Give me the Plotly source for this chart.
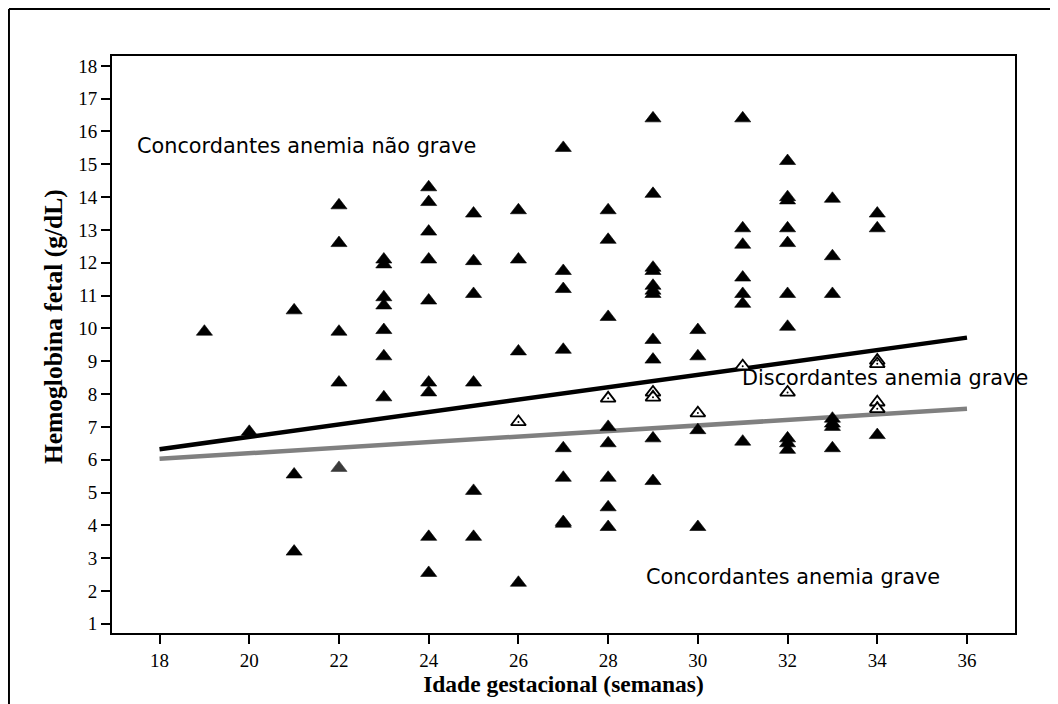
import plotly.graph_objects as go

# ---- data ----
filled_weeks = ([19] + [20] + [21] * 3 + [22] * 4 + [23] * 7 + [24] * 9 + [25] * 6 + [26] * 4
                + [27] * 8 + [28] * 8 + [29] * 11 + [30] * 4 + [31] * 7 + [32] * 10 + [33] * 7 + [34] * 3)
filled_hb = [9.9,
             6.85,
             10.55, 5.55, 3.2,
             13.75, 12.6, 9.9, 8.35,
             12.1, 11.95, 10.95, 10.7, 9.95, 9.15, 7.9,
             14.3, 13.85, 12.95, 12.1, 10.85, 8.35, 8.05, 3.65, 2.55,
             13.5, 12.05, 11.05, 8.35, 5.05, 3.65,
             13.6, 12.1, 9.3, 2.25,
             15.5, 11.75, 11.2, 9.35, 6.35, 5.45, 4.1, 4.05,
             13.6, 12.7, 10.35, 7.0, 6.5, 5.45, 4.55, 3.95,
             16.4, 14.1, 11.85, 11.75, 11.3, 11.15, 11.05, 9.65, 9.05, 6.65, 5.35,
             9.95, 9.15, 6.9, 3.95,
             16.4, 13.05, 12.55, 11.55, 11.05, 10.75, 6.55,
             15.1, 14.0, 13.9, 13.05, 12.6, 11.05, 10.05, 6.65, 6.5, 6.3,
             13.95, 12.2, 11.05, 7.25, 7.1, 7.0, 6.35,
             13.5, 13.05, 6.75]

grey_weeks = [22]
grey_hb = [5.75]

hollow_weeks = [26, 28, 29, 29, 30, 31, 32, 34, 34, 34, 34]
hollow_hb = [7.15, 7.87, 8.05, 7.9, 7.42, 8.85, 8.05, 9.02, 8.92, 7.75, 7.55]

fit_weeks = [18, 36]
fit_black = [6.32, 9.72]
fit_grey = [6.03, 7.55]

x_ticks = [18, 20, 22, 24, 26, 28, 30, 32, 34, 36]
y_ticks = list(range(1, 19))

labels = ["Concordantes anemia não grave", "Discordantes anemia grave", "Concordantes anemia grave"]
label_x = [17.46, 30.93, 28.79]
label_y = [15.55, 8.49, 2.44]

x_title = "Idade gestacional (semanas)"
y_title = "Hemoglobina fetal (g/dL)"

fig = go.Figure()

fig.add_trace(go.Scatter(x=fit_weeks, y=fit_black, mode="lines",
                         line=dict(color="black", width=4.5), showlegend=False, hoverinfo="skip"))
fig.add_trace(go.Scatter(x=fit_weeks, y=fit_grey, mode="lines",
                         line=dict(color="#808080", width=4.5), showlegend=False, hoverinfo="skip"))

fig.add_trace(go.Scatter(x=filled_weeks, y=filled_hb, mode="markers",
                         marker=dict(symbol="triangle-up", size=14, color="black",
                                     line=dict(color="black", width=0.6)),
                         showlegend=False))
fig.add_trace(go.Scatter(x=grey_weeks, y=grey_hb, mode="markers",
                         marker=dict(symbol="triangle-up", size=14, color="#3a3a3a",
                                     line=dict(color="#3a3a3a", width=0.6)),
                         showlegend=False))
fig.add_trace(go.Scatter(x=hollow_weeks, y=hollow_hb, mode="markers",
                         marker=dict(symbol="triangle-up", size=13, color="white",
                                     line=dict(color="black", width=1.8)),
                         showlegend=False))
fig.add_trace(go.Scatter(x=hollow_weeks, y=hollow_hb, mode="markers",
                         marker=dict(symbol="circle", size=2, color="black", line=dict(width=0)),
                         showlegend=False, hoverinfo="skip"))

for t, x, y in zip(labels, label_x, label_y):
    fig.add_annotation(x=x, y=y, text=t, showarrow=False, xanchor="left", yanchor="middle",
                       font=dict(family="DejaVu Sans", size=20.8, color="black"))

# y-axis title (placed slightly above the plot centre, as in the reference)
fig.add_annotation(xref="paper", yref="paper", x=-0.0653, y=0.5303, text="<b>" + y_title + "</b>",
                   textangle=-90, showarrow=False, xanchor="center", yanchor="middle",
                   font=dict(family="Liberation Serif", size=25.5, color="black"))

axis_common = dict(showline=True, mirror=True, linewidth=2, linecolor="black",
                   ticks="outside", ticklen=9, tickwidth=1.5, tickcolor="black",
                   showgrid=False, zeroline=False,
                   tickfont=dict(family="Liberation Serif", size=19, color="black"))

fig.update_xaxes(range=[16.94, 37.07], tickvals=x_ticks, **axis_common,
                 title=dict(text="<b>" + x_title + "</b>", standoff=4,
                            font=dict(family="Liberation Serif", size=23.5, color="black")))
fig.update_yaxes(range=[0.72, 18.3], tickvals=y_ticks, **axis_common)

# outer frame (left and top edges visible in the reference)
fig.add_shape(type="line", xref="paper", yref="paper", x0=-0.1141, x1=-0.1141, y0=-0.2, y1=1.0815,
              line=dict(color="black", width=2))
fig.add_shape(type="line", xref="paper", yref="paper", x0=-0.1141, x1=1.06, y0=1.0815, y1=1.0815,
              line=dict(color="black", width=2))

fig.update_layout(width=1050, height=696, plot_bgcolor="white", paper_bgcolor="white",
                  margin=dict(l=104, r=43, t=48, b=71))

fig.write_html("out.html")
